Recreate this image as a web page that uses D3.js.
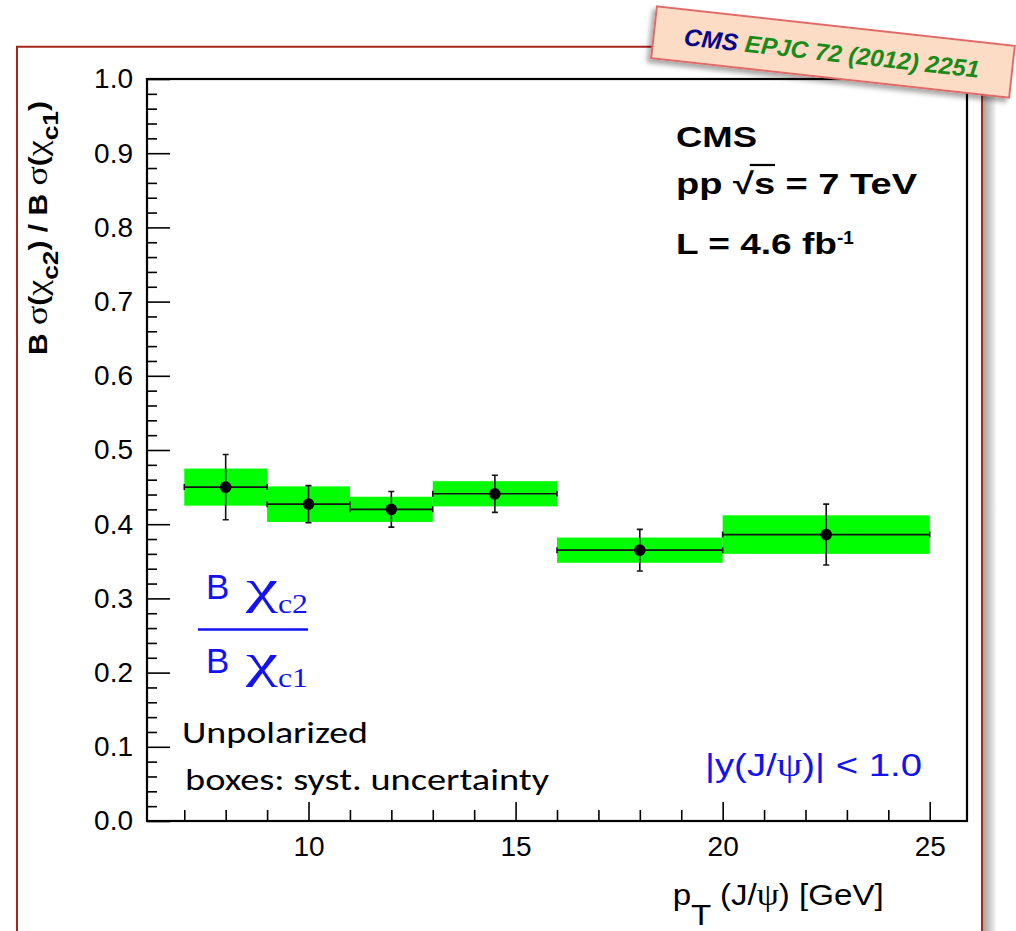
<!DOCTYPE html>
<html>
<head>
<meta charset="utf-8">
<script src="https://cdn.jsdelivr.net/npm/d3@7"></script>
<style>
  html, body { margin: 0; padding: 0; background: #fff; }
  svg { display: block; }
</style>
</head>
<body>
<svg id="chart" width="1016" height="931"></svg>
<script>
// J/psi pT bins (GeV)
const binLow    = [7, 9, 11, 13, 16, 20];
const binHigh   = [9, 11, 13, 16, 20, 25];
const binCentre = [8, 10, 12, 14.5, 18, 22.5];
// Ratio B sigma(chi_c2) / B sigma(chi_c1) with statistical and systematic uncertainties
const ratio   = [0.450, 0.427, 0.420, 0.441, 0.365, 0.386];
const statErr = [0.044, 0.025, 0.024, 0.025, 0.028, 0.041];
const systErr = [0.025, 0.024, 0.017, 0.017, 0.017, 0.026];
// axis ticks
const yTicks = [0.0, 0.1, 0.2, 0.3, 0.4, 0.5, 0.6, 0.7, 0.8, 0.9, 1.0];
const xTicks = [10, 15, 20, 25];

const W = 1016, H = 931;
const SANS = "'Liberation Sans', Arial, Helvetica, sans-serif";
const SERIF = "'Liberation Serif', 'Times New Roman', serif";
const BLUE = "#1212f2";

const svg = d3.select("#chart");
const defs = svg.append("defs");

const plot = { left: 147, right: 967, top: 79, bottom: 821 };
const x = d3.scaleLinear().domain([6.1, 25.9]).range([plot.left, plot.right]);
const y = d3.scaleLinear().domain([0, 1]).range([plot.bottom, plot.top]);

// ---- slide frame with a soft shadow on its right edge ----
const grad = defs.append("linearGradient").attr("id", "frameShadow")
  .attr("x1", 0).attr("x2", 1).attr("y1", 0).attr("y2", 0);
grad.append("stop").attr("offset", 0).attr("stop-color", "#a4a4a4");
grad.append("stop").attr("offset", 0.45).attr("stop-color", "#c8c8c8");
grad.append("stop").attr("offset", 1).attr("stop-color", "#ffffff");
svg.append("rect").attr("x", 983).attr("y", 50).attr("width", 14).attr("height", H)
  .attr("fill", "url(#frameShadow)");
svg.append("path")
  .attr("d", `M17,${H + 5} V46.7 H982 V${H + 5}`)
  .attr("fill", "none").attr("stroke", "#a6261b").attr("stroke-width", 2);

// ---- systematic boxes ----
const idx = d3.range(ratio.length);
svg.append("g").selectAll("rect").data(idx).join("rect")
  .attr("x", i => x(binLow[i]))
  .attr("width", i => x(binHigh[i]) - x(binLow[i]))
  .attr("y", i => y(ratio[i] + systErr[i]))
  .attr("height", i => y(ratio[i] - systErr[i]) - y(ratio[i] + systErr[i]))
  .attr("fill", "#00ff00");

// ---- statistical error bars and markers ----
const eb = svg.append("g").attr("stroke", "#151515").attr("stroke-width", 1.6).attr("fill", "none");
idx.forEach(i => {
  const yc = y(ratio[i]), xc = x(binCentre[i]);
  const xl = x(binLow[i]), xh = x(binHigh[i]);
  const yt = y(ratio[i] + statErr[i]), yb = y(ratio[i] - statErr[i]);
  eb.append("path").attr("d",
    `M${xl},${yc}H${xh}` +
    `M${xl},${yc - 3}V${yc + 3}M${xh},${yc - 3}V${yc + 3}` +
    `M${xc},${yt}V${yb}` +
    `M${xc - 3},${yt}H${xc + 3}M${xc - 3},${yb}H${xc + 3}`);
});
svg.append("g").selectAll("circle").data(idx).join("circle")
  .attr("cx", i => x(binCentre[i])).attr("cy", i => y(ratio[i]))
  .attr("r", 5.8).attr("fill", "#000");

// ---- axes ----
function styleAxis(g) {
  g.select(".domain").remove();
  g.selectAll("line").attr("stroke", "#000").attr("stroke-width", 1.6);
  g.selectAll("text").attr("font-family", SANS).attr("font-size", 28).attr("fill", "#000");
}
const yMinor = d3.range(0, 101, 2).map(v => v / 100).filter(v => Math.round(v * 100) % 10 !== 0);
svg.append("g").attr("transform", `translate(${plot.left},0)`)
  .call(d3.axisLeft(y).tickValues(yMinor).tickFormat("").tickSizeInner(-10).tickSizeOuter(0))
  .call(styleAxis);
svg.append("g").attr("transform", `translate(${plot.left},0)`)
  .call(d3.axisLeft(y).tickValues(yTicks).tickFormat(d3.format(".1f"))
    .tickSizeInner(-23).tickSizeOuter(0).tickPadding(14))
  .call(styleAxis);

const xMinor = d3.range(7, 26).filter(v => v % 5 !== 0);
svg.append("g").attr("transform", `translate(0,${plot.bottom})`)
  .call(d3.axisBottom(x).tickValues(xMinor).tickFormat("").tickSizeInner(-11).tickSizeOuter(0))
  .call(styleAxis);
svg.append("g").attr("transform", `translate(0,${plot.bottom})`)
  .call(d3.axisBottom(x).tickValues(xTicks).tickFormat(d3.format("d"))
    .tickSizeInner(-19).tickSizeOuter(0).tickPadding(15))
  .call(styleAxis);

// plot frame
svg.append("rect")
  .attr("x", plot.left).attr("y", plot.top)
  .attr("width", plot.right - plot.left).attr("height", plot.bottom - plot.top)
  .attr("fill", "none").attr("stroke", "#000").attr("stroke-width", 2.2);

// ---- text helpers ----
function fit(sel, len) { return sel.attr("textLength", len).attr("lengthAdjust", "spacingAndGlyphs"); }

// y-axis title: B sigma(chi_c2) / B sigma(chi_c1)
const yTitle = svg.append("text")
  .attr("transform", "translate(47,355) rotate(-90)")
  .attr("font-family", SANS).attr("font-weight", "bold").attr("font-size", 25).attr("fill", "#000");
function sigmaChi(t, sub) {
  t.append("tspan").attr("font-family", SERIF).attr("font-weight", "normal").attr("font-size", 30).text("σ");
  t.append("tspan").text("(");
  t.append("tspan").attr("font-family", SERIF).attr("font-weight", "normal").attr("font-size", 30).text("χ");
  t.append("tspan").attr("font-size", 22).attr("dy", 11).text(sub);
  t.append("tspan").attr("dy", -11).text(")");
}
yTitle.append("tspan").text("B ");
sigmaChi(yTitle, "c2");
yTitle.append("tspan").text("  / B ");
sigmaChi(yTitle, "c1");
fit(yTitle, 254);

// x-axis title: p_T (J/psi) [GeV]
const xTitle = svg.append("text").attr("x", 672.7).attr("y", 905)
  .attr("font-family", SANS).attr("font-size", 29).attr("fill", "#000");
xTitle.append("tspan").text("p");
xTitle.append("tspan").attr("dy", 20).text("T");
xTitle.append("tspan").attr("dy", -20).text(" (J/");
xTitle.append("tspan").attr("font-family", SERIF).attr("font-size", 31).text("ψ");
xTitle.append("tspan").text(") [GeV]");
fit(xTitle, 211);

// experiment labels
const lab = svg.append("g").attr("font-family", SANS).attr("font-weight", "bold").attr("font-size", 30).attr("fill", "#000");
fit(lab.append("text").attr("x", 676).attr("y", 146.7).text("CMS"), 81);
const ecm = lab.append("text").attr("x", 676).attr("y", 194).text("pp √s = 7 TeV");
fit(ecm, 241);
const lumi = lab.append("text").attr("x", 676).attr("y", 254);
lumi.append("tspan").text("L = 4.6 fb");
fit(lumi, 161);
lab.append("text").attr("x", 837).attr("y", 244).attr("font-size", 19).text("-1");
// overbar of the square root
{
  const n = ecm.node();
  const r = n.getExtentOfChar(3), s = n.getExtentOfChar(4);
  lab.append("line")
    .attr("x1", r.x + r.width * 0.8).attr("x2", s.x + s.width)
    .attr("y1", 165).attr("y2", 165)
    .attr("stroke", "#000").attr("stroke-width", 2.2);
}

// B chi_c2 / B chi_c1 fraction
const frac = svg.append("g").attr("fill", BLUE);
function fracRow(yb, sub) {
  frac.append("text").attr("x", 206).attr("y", yb).attr("font-family", SANS).attr("font-size", 35).text("B");
  fit(frac.append("text").attr("x", 246).attr("y", yb + 4).attr("font-family", SERIF).attr("font-size", 48).text("χ"), 32);
  fit(frac.append("text").attr("x", 278).attr("y", yb + 14).attr("font-family", SERIF).attr("font-size", 28).text(sub), 30);
}
fracRow(599, "c2");
frac.append("line").attr("x1", 198).attr("x2", 308).attr("y1", 629.5).attr("y2", 629.5)
  .attr("stroke", BLUE).attr("stroke-width", 2.6);
fracRow(673, "c1");

// notes
const note = svg.append("g").attr("font-family", "Carlito, Lato, 'Open Sans', sans-serif").attr("font-size", 30).attr("fill", "#000");
fit(note.append("text").attr("x", 182).attr("y", 742.7).text("Unpolarized"), 186);
fit(note.append("text").attr("x", 185).attr("y", 790).text("boxes: syst. uncertainty"), 364);

// rapidity range
const rap = svg.append("text").attr("x", 705).attr("y", 776)
  .attr("font-family", SANS).attr("font-size", 31).attr("fill", BLUE);
rap.append("tspan").text("|y(J/");
rap.append("tspan").attr("font-family", SERIF).attr("font-size", 33).text("ψ");
rap.append("tspan").text(")| < 1.0");
fit(rap, 217);

// ---- publication stamp ----
const sh = defs.append("filter").attr("id", "stampShadow")
  .attr("x", "-10%").attr("y", "-30%").attr("width", "120%").attr("height", "170%");
sh.append("feDropShadow").attr("dx", -3).attr("dy", 4).attr("stdDeviation", 2.5)
  .attr("flood-color", "#000").attr("flood-opacity", 0.35);
const stamp = svg.append("g").attr("transform", "translate(833,52) rotate(6.3)");
stamp.append("rect").attr("x", -180).attr("y", -26).attr("width", 360).attr("height", 52)
  .attr("fill", "#fcdcc5").attr("stroke", "#df6b68").attr("stroke-width", 2)
  .attr("filter", "url(#stampShadow)");
const st = stamp.append("text").attr("x", -1).attr("y", 9.5).attr("text-anchor", "middle")
  .attr("font-family", SANS).attr("font-weight", "bold").attr("font-style", "italic").attr("font-size", 24);
st.append("tspan").attr("fill", "#05058a").text("CMS ");
st.append("tspan").attr("fill", "#1b8a1b").text("EPJC 72 (2012) 2251");
fit(st, 297);
</script>
</body>
</html>
